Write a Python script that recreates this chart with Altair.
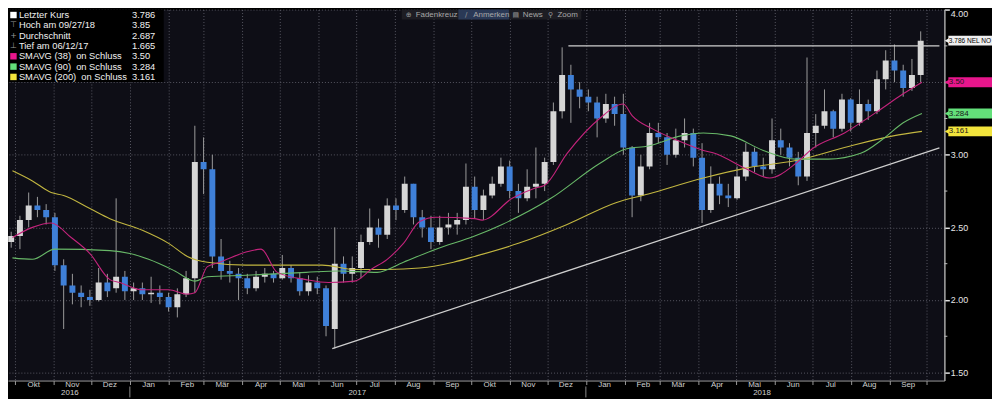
import altair as alt
import pandas as pd

# ---------------- data (weekly candles) ----------------
first_week = "2016-09-28"
opens = [2.40, 2.44, 2.55, 2.65, 2.62, 2.57, 2.24, 2.10, 2.05, 2.02,
         2.00, 2.12, 2.08, 2.16, 2.06, 2.08, 2.04, 2.05, 2.02, 1.95,
         2.04, 2.15, 2.95, 2.90, 2.30, 2.20, 2.18, 2.15, 2.08, 2.16,
         2.18, 2.15, 2.22, 2.15, 2.06, 2.12, 2.08, 1.80, 2.25, 2.18,
         2.22, 2.40, 2.50, 2.45, 2.65, 2.62, 2.80, 2.57, 2.50, 2.40,
         2.50, 2.52, 2.55, 2.78, 2.62, 2.72, 2.80, 2.92, 2.75, 2.70,
         2.78, 2.80, 2.95, 3.30, 3.55, 3.45, 3.40, 3.36, 3.25, 3.35,
         3.28, 3.05, 2.72, 2.92, 3.15, 3.12, 3.00, 3.10, 3.15, 2.98,
         2.62, 2.80, 2.72, 2.70, 2.85, 3.02, 2.92, 2.90, 3.10, 3.05,
         2.98, 2.85, 3.15, 3.20, 3.30, 3.18, 3.38, 3.22, 3.35, 3.30,
         3.52, 3.65, 3.58, 3.46, 3.55]
highs = [2.47, 2.58, 2.74, 2.71, 2.66, 2.60, 2.28, 2.18, 2.10, 2.07,
         2.22, 2.18, 2.70, 2.20, 2.12, 2.12, 2.16, 2.10, 2.05, 2.08,
         2.20, 3.20, 3.12, 3.00, 2.42, 2.27, 2.22, 2.18, 2.20, 2.22,
         2.20, 2.31, 2.24, 2.19, 2.17, 2.16, 2.10, 2.50, 2.30, 2.30,
         2.45, 2.63, 2.56, 2.70, 2.70, 2.85, 2.80, 2.62, 2.58, 2.58,
         2.60, 2.60, 2.94, 2.85, 2.76, 2.85, 2.98, 2.96, 2.80, 2.90,
         3.05, 2.98, 3.36, 3.74, 3.62, 3.50, 3.45, 3.40, 3.42, 3.40,
         3.42, 3.06, 3.00, 3.22, 3.22, 3.15, 3.18, 3.25, 3.18, 3.08,
         2.92, 2.85, 2.80, 2.92, 3.08, 3.05, 2.98, 3.25, 3.18, 3.08,
         3.02, 3.67, 3.28, 3.45, 3.31, 3.42, 3.39, 3.45, 3.38, 3.58,
         3.72, 3.76, 3.62, 3.66, 3.85]
lows = [2.36, 2.35, 2.50, 2.57, 2.52, 2.20, 1.80, 1.97, 1.95, 1.96,
        1.99, 2.02, 2.05, 2.00, 2.00, 2.00, 1.98, 1.97, 1.92, 1.88,
        2.02, 2.05, 2.73, 2.22, 2.14, 2.12, 2.00, 2.04, 2.06, 2.12,
        2.12, 2.14, 2.12, 2.03, 2.03, 2.04, 1.75, 1.665, 2.12, 2.12,
        2.15, 2.38, 2.36, 2.42, 2.55, 2.60, 2.52, 2.43, 2.35, 2.38,
        2.45, 2.45, 2.52, 2.56, 2.55, 2.70, 2.78, 2.70, 2.60, 2.68,
        2.70, 2.75, 2.93, 3.25, 3.22, 3.32, 3.30, 3.12, 3.22, 3.20,
        3.00, 2.57, 2.68, 2.90, 3.08, 2.93, 2.98, 3.05, 2.92, 2.53,
        2.60, 2.66, 2.64, 2.69, 2.82, 2.88, 2.85, 2.87, 3.00, 2.92,
        2.79, 2.82, 3.05, 3.18, 3.12, 3.16, 3.16, 3.20, 3.24, 3.28,
        3.45, 3.50, 3.40, 3.44, 3.50]
closes = [2.44, 2.55, 2.65, 2.62, 2.57, 2.24, 2.10, 2.05, 2.02, 2.00,
          2.12, 2.06, 2.16, 2.06, 2.08, 2.04, 2.05, 2.02, 1.95, 2.04,
          2.15, 2.95, 2.90, 2.30, 2.20, 2.18, 2.15, 2.08, 2.16, 2.18,
          2.15, 2.22, 2.15, 2.06, 2.12, 2.08, 1.82, 2.25, 2.18, 2.22,
          2.40, 2.50, 2.45, 2.65, 2.62, 2.80, 2.57, 2.50, 2.40, 2.50,
          2.52, 2.55, 2.78, 2.62, 2.72, 2.80, 2.92, 2.75, 2.70, 2.78,
          2.80, 2.95, 3.30, 3.55, 3.45, 3.40, 3.36, 3.25, 3.35, 3.28,
          3.05, 2.72, 2.92, 3.15, 3.12, 3.00, 3.10, 3.15, 2.98, 2.62,
          2.80, 2.72, 2.70, 2.85, 3.02, 2.92, 2.90, 3.10, 3.05, 2.98,
          2.85, 3.15, 3.20, 3.30, 3.18, 3.38, 3.22, 3.35, 3.30, 3.52,
          3.65, 3.58, 3.46, 3.55, 3.786]

# moving averages
ma38_dates = ["2016-09-29", "2016-10-15", "2016-10-30", "2016-11-15", "2016-11-30", "2016-12-16",
              "2016-12-24", "2017-01-11", "2017-02-01", "2017-02-16", "2017-02-22", "2017-03-04",
              "2017-03-14", "2017-04-04", "2017-04-16", "2017-04-29", "2017-05-22", "2017-06-09",
              "2017-06-30", "2017-07-13", "2017-07-26", "2017-08-08", "2017-08-21", "2017-09-03",
              "2017-10-04", "2017-10-10", "2017-11-03", "2017-11-21", "2017-11-29", "2017-12-17",
              "2018-01-12", "2018-01-31", "2018-02-07", "2018-02-23", "2018-03-15", "2018-04-05",
              "2018-04-14", "2018-05-10", "2018-05-28", "2018-06-18", "2018-07-01", "2018-07-27",
              "2018-08-21", "2018-09-12", "2018-09-27"]
ma38_vals = [2.43, 2.50, 2.53, 2.43, 2.32, 2.14, 2.12, 2.07, 2.07, 2.04, 2.05, 2.23,
             2.26, 2.33, 2.35, 2.19, 2.14, 2.12, 2.13, 2.21, 2.28, 2.39, 2.54, 2.57,
             2.56, 2.55, 2.70, 2.77, 2.79, 3.01, 3.25, 3.35, 3.27, 3.18, 3.10, 3.03,
             3.01, 2.90, 2.84, 2.94, 3.04, 3.15, 3.29, 3.42, 3.50]
ma90_dates = ["2016-09-29", "2016-10-15", "2016-11-02", "2016-12-16", "2017-01-01", "2017-01-16",
              "2017-02-06", "2017-02-22", "2017-03-04", "2017-04-04", "2017-05-22", "2017-06-17",
              "2017-07-18", "2017-08-08", "2017-09-03", "2017-10-04", "2017-10-26", "2017-12-04",
              "2018-01-12", "2018-02-02", "2018-02-20", "2018-03-18", "2018-04-05", "2018-04-27",
              "2018-05-23", "2018-06-18", "2018-07-14", "2018-08-09", "2018-08-27", "2018-09-12",
              "2018-09-27"]
ma90_vals = [2.29, 2.28, 2.35, 2.34, 2.32, 2.28, 2.20, 2.13, 2.16, 2.17, 2.19, 2.20,
             2.19, 2.26, 2.35, 2.44, 2.52, 2.70, 2.94, 3.04, 3.06, 3.13, 3.15, 3.13,
             3.03, 2.97, 2.97, 3.01, 3.11, 3.22, 3.284]
ma200_dates = ["2016-09-29", "2016-10-15", "2016-10-30", "2016-11-09", "2016-11-30", "2016-12-16",
               "2017-01-11", "2017-02-01", "2017-02-16", "2017-03-04", "2017-04-04", "2017-06-04",
               "2017-06-30", "2017-07-26", "2017-08-21", "2017-09-17", "2017-10-04", "2017-11-08",
               "2017-12-17", "2018-01-25", "2018-02-20", "2018-04-05", "2018-05-10", "2018-06-18",
               "2018-07-27", "2018-09-04", "2018-09-27"]
ma200_vals = [2.89, 2.82, 2.74, 2.72, 2.63, 2.56, 2.48, 2.39, 2.30, 2.26, 2.24, 2.24,
              2.21, 2.21, 2.22, 2.26, 2.30, 2.39, 2.52, 2.67, 2.73, 2.84, 2.91, 2.96,
              3.05, 3.13, 3.161]

# drawn trend lines
resist_dates = ["2017-12-18", "2018-10-11"]
resist_vals = [3.75, 3.75]
support_dates = ["2017-06-12", "2018-10-11"]
support_vals = [1.665, 3.047]

# legend
legend_labels = ["Letzter Kurs", "Hoch am 09/27/18", "Durchschnitt", "Tief am 06/12/17",
                 "SMAVG (38)\u00a0 on Schluss", "SMAVG (90)\u00a0 on Schluss", "SMAVG (200)\u00a0 on Schluss"]
legend_values = ["3.786", "3.85", "2.687", "1.665", "3.50", "3.284", "3.161"]
legend_icons = ["sq", "\u22a4", "+", "\u22a5", "sq", "sq", "sq"]

# right-side value tags
tag_values = [3.786, 3.50, 3.284, 3.161]
tag_labels = ["3.786 NEL NO", "3.50", "3.284", "3.161"]

# axis texts
month_names = ["Okt", "Nov", "Dez", "Jan", "Feb", "M\u00e4r", "Apr", "Mai", "Jun", "Jul", "Aug", "Sep"] * 2
year_labels = ["2016", "2017", "2018"]
year_mid_dates = ["2016-11-14", "2017-07-02", "2018-05-22"]
year_sep_dates = ["2017-01-01", "2018-01-01"]
minor_ticks = [1.75, 2.25, 2.75, 3.25, 3.75]

toolbar_items = ["Fadenkreuz", "Anmerken", "News", "Zoom"]
toolbar_icons = ["\u2295", "\u2215", "\u25a4", "\u26b2"]

# ---------------- styling ----------------
FONT = "Liberation Sans"
GRID = "#6a6a76"
UP = "#d6d6d6"
DOWN = "#3f80d8"
WICK = "#9c9c9c"
C38 = "#c4247c"
C90 = "#68b868"
C200 = "#c2b640"
LEG_COLORS = ["#ffffff", "#9a9a9a", "#9a9a9a", "#9a9a9a", "#e8168c", "#63e07a", "#f2e43c"]
TAG_FILL = ["#efefef", "#e8168c", "#63e07a", "#f2e43c"]
TAG_TEXT = ["#000000", "#1a1a1a", "#1a1a1a", "#1a1a1a"]
TAG_SIZE = [6.6, 8, 8, 8]

W, H = 944, 374

X_SCALE = alt.Scale(type="utc", domain=[alt.DateTime(year=2016, month=9, date=29, hours=10, utc=True),
                                         alt.DateTime(year=2018, month=10, date=11, utc=True)])
Y_SCALE = alt.Scale(domain=[1.445, 4.0], zero=False, nice=False)

x_axis = alt.Axis(orient="bottom", title=None, labels=False, grid=True, gridDash=[1, 2],
                  gridColor=GRID, gridOpacity=0.8, tickCount={"interval": "month", "step": 1}, ticks=True,
                  tickSize=4, tickColor="#9a9a9a", domainColor="#9a9a9a", domainWidth=1)
y_axis = alt.Axis(orient="right", title=None, values=[1.5, 2.0, 2.5, 3.0, 3.5, 4.0], format=".2f",
                  labelExpr="datum.value == 3.5 ? '' : datum.label",
                  grid=True, gridDash=[1, 2], gridColor=GRID, gridOpacity=0.8, tickSize=5, tickWidth=1.5,
                  tickColor="#e0e0e0", domainColor="#a8a8a8", domainWidth=1.5,
                  labelColor="#e6e6e6", labelFont=FONT, labelFontSize=9, labelPadding=1,
                  labelBaseline={"condition": {"test": "datum.value >= 3.99", "value": "top"},
                                 "value": "middle"})

# other layers share the scales; their (implicit) axes merge into the explicit ones above
X = alt.X("date:T", scale=X_SCALE)


def Yq(field):
    return alt.Y(field, scale=Y_SCALE)


candles = pd.DataFrame({
    "date": pd.date_range(first_week, periods=len(closes), freq="7D").strftime("%Y-%m-%d"),
    "open": opens, "high": highs, "low": lows, "close": closes,
})
candles["dir"] = ["up" if c >= o else "down" for o, c in zip(opens, closes)]

layers = []

wicks = alt.Chart(candles).mark_rule(color=WICK, strokeWidth=1, clip=True).encode(
    x=alt.X("date:T", scale=X_SCALE, axis=x_axis),
    y=alt.Y("low:Q", scale=Y_SCALE, axis=y_axis),
    y2="high:Q",
)
layers.append(wicks)

bodies = alt.Chart(candles).mark_bar(size=6, clip=True).encode(
    x=X,
    y=Yq("open:Q"),
    y2="close:Q",
    color=alt.Color("dir:N", scale=alt.Scale(domain=["up", "down"], range=[UP, DOWN]), legend=None),
)
layers.append(bodies)


def line_layer(dates, vals, color, width=1.1, interp="monotone"):
    df = pd.DataFrame({"date": dates, "v": vals})
    return alt.Chart(df).mark_line(color=color, strokeWidth=width, clip=True, interpolate=interp).encode(
        x=X, y=Yq("v:Q"))


layers.append(line_layer(ma200_dates, ma200_vals, C200))
layers.append(line_layer(ma90_dates, ma90_vals, C90))
layers.append(line_layer(ma38_dates, ma38_vals, C38))
layers.append(line_layer(resist_dates, resist_vals, "#cfcfcf", 1.3, "linear"))
layers.append(line_layer(support_dates, support_vals, "#cfcfcf", 1.3, "linear"))

# minor ticks on right axis
minor_df = pd.DataFrame({"v": minor_ticks})
layers.append(alt.Chart(minor_df).mark_rule(color="#bdbdbd", strokeWidth=1).encode(
    x=alt.value(W), x2=alt.value(W + 3), y=Yq("v:Q")))

# bottom axis labels
month_df = pd.DataFrame({
    "date": (pd.date_range("2016-10-01", periods=len(month_names), freq="MS") + pd.Timedelta(days=15)).strftime("%Y-%m-%d"),
    "label": month_names,
})
layers.append(alt.Chart(month_df).mark_text(font=FONT, fontSize=8, color="#d0d0d0", baseline="middle").encode(
    x=X, y=alt.value(H + 4.5), text="label:N"))
year_df = pd.DataFrame({"date": year_mid_dates, "label": year_labels})
layers.append(alt.Chart(year_df).mark_text(font=FONT, fontSize=8, color="#d0d0d0", baseline="middle").encode(
    x=X, y=alt.value(H + 13), text="label:N"))
sep_df = pd.DataFrame({"date": year_sep_dates})
layers.append(alt.Chart(sep_df).mark_rule(color="#8a8a8a", strokeWidth=1).encode(
    x=X, y=alt.value(H + 6), y2=alt.value(H + 17)))

# right-side value tags
for val, lab, fill, tcol, fs in zip(tag_values, tag_labels, TAG_FILL, TAG_TEXT, TAG_SIZE):
    tdf = pd.DataFrame({"v": [val], "label": [lab]})
    layers.append(alt.Chart(tdf).mark_rule(color=fill, strokeWidth=10, strokeCap="butt").encode(
        x=alt.value(W + 4), x2=alt.value(W + 48), y=Yq("v:Q")))
    layers.append(alt.Chart(tdf).mark_point(shape="triangle-left", filled=True, color=fill, size=40, opacity=1).encode(
        x=alt.value(W + 3), y=Yq("v:Q")))
    layers.append(alt.Chart(tdf).mark_text(font=FONT, fontSize=fs, color=tcol, align="left", baseline="middle").encode(
        x=alt.value(W + 4.5), y=Yq("v:Q"), text="label:N"))

# legend box
one = pd.DataFrame({"k": [0]})
layers.append(alt.Chart(one).mark_rect(color="#000000").encode(
    x=alt.value(0), x2=alt.value(157), y=alt.value(0), y2=alt.value(73)))
for i, (lab, val, icon, col) in enumerate(zip(legend_labels, legend_values, legend_icons, LEG_COLORS)):
    yy = 5.5 + i * 10.4
    ldf = pd.DataFrame({"label": [lab], "value": [val], "icon": [icon]})
    if icon == "sq":
        layers.append(alt.Chart(ldf).mark_square(color=col, size=42, opacity=1).encode(
            x=alt.value(5.5), y=alt.value(yy)))
    else:
        layers.append(alt.Chart(ldf).mark_text(font="DejaVu Sans", fontSize=8, color=col, baseline="middle").encode(
            x=alt.value(5.5), y=alt.value(yy), text="icon:N"))
    layers.append(alt.Chart(ldf).mark_text(font=FONT, fontSize=9.4, color="#f0f0f0", align="left", baseline="middle").encode(
        x=alt.value(11), y=alt.value(yy), text="label:N"))
    layers.append(alt.Chart(ldf).mark_text(font=FONT, fontSize=9.4, color="#f0f0f0", align="left", baseline="middle").encode(
        x=alt.value(125), y=alt.value(yy), text="value:N"))

# toolbar
layers.append(alt.Chart(one).mark_rect(color="#1d1d23").encode(
    x=alt.value(397), x2=alt.value(578), y=alt.value(0), y2=alt.value(10)))
layers.append(alt.Chart(one).mark_rect(color="#2a3956").encode(
    x=alt.value(454), x2=alt.value(505), y=alt.value(0), y2=alt.value(10)))
tool_x = [404, 462, 512, 547]
for name, icon, tx in zip(toolbar_items, toolbar_icons, tool_x):
    tdf = pd.DataFrame({"name": [name], "icon": [icon]})
    layers.append(alt.Chart(tdf).mark_text(font="DejaVu Sans", fontSize=7, color="#9a9a9a", baseline="middle").encode(
        x=alt.value(tx), y=alt.value(5), text="icon:N"))
    layers.append(alt.Chart(tdf).mark_text(font=FONT, fontSize=8, color="#a8a8a8", align="left", baseline="middle").encode(
        x=alt.value(tx + 7), y=alt.value(5), text="name:N"))

chart = alt.layer(*layers).properties(
    width=W, height=H,
    padding={"left": 0, "top": 0, "right": 48, "bottom": 17},
    autosize=alt.AutoSizeParams(type="none"),
).configure(background="#000000").configure_view(fill="#0e0e16", strokeOpacity=0)

chart.save("out.html", embed_options={"renderer": "svg", "actions": False})
